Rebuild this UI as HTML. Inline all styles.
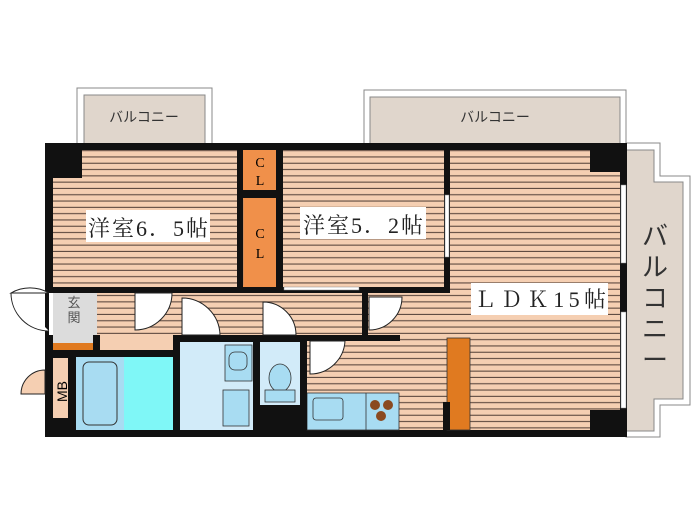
<!DOCTYPE html>
<html><head><meta charset="utf-8"><style>html,body{margin:0;padding:0;background:#fff}svg{display:block}</style></head>
<body>
<svg width="700" height="525" viewBox="0 0 700 525" xmlns="http://www.w3.org/2000/svg" font-family="Liberation Serif, Noto Serif CJK SC, serif">
<defs>
<pattern id="fl" width="10" height="6.3" patternUnits="userSpaceOnUse">
<rect width="10" height="6.3" fill="#f5cfb2"/>
<rect y="5.2" width="10" height="1.1" fill="#5e4a40"/>
</pattern>
</defs>
<rect x="77" y="88" width="135" height="56" fill="#fff" stroke="#888" stroke-width="1"/>
<rect x="84" y="95" width="121" height="49" fill="#e0d6cc" stroke="#888" stroke-width="1"/>
<text x="144" y="122" font-size="14" text-anchor="middle" fill="#333" font-family="Noto Sans CJK JP, sans-serif">バルコニー</text>
<rect x="364" y="90" width="262" height="54" fill="#fff" stroke="#888"/>
<rect x="370" y="97" width="250" height="47" fill="#e0d6cc" stroke="#888"/>
<text x="495" y="122" font-size="14" text-anchor="middle" fill="#333" font-family="Noto Sans CJK JP, sans-serif">バルコニー</text>
<polygon points="626,143 660,143 660,176 690,176 690,405 660,405 660,437 626,437" fill="#fff" stroke="#888"/>
<polygon points="626,150 654,150 654,182 683,182 683,399 654,399 654,431 626,431" fill="#e0d6cc" stroke="#888"/>
<text font-size="26" fill="#333" font-family="Noto Sans CJK JP, sans-serif" text-anchor="middle">
<tspan x="655" y="245">バ</tspan><tspan x="655" y="276">ル</tspan><tspan x="655" y="307">コ</tspan><tspan x="655" y="338">ニ</tspan><tspan x="655" y="369">ー</tspan></text>
<rect x="45" y="143" width="582" height="294" fill="#111"/>
<rect x="53" y="150" width="184" height="137" fill="url(#fl)"/>
<rect x="283" y="150" width="161" height="137" fill="url(#fl)"/>
<rect x="450" y="150" width="170" height="280" fill="url(#fl)"/>
<rect x="97" y="293" width="353" height="42" fill="url(#fl)"/>
<rect x="307" y="335" width="143" height="95" fill="url(#fl)"/>
<rect x="97" y="335" width="76" height="15" fill="#f5cfb2"/>
<rect x="53" y="150" width="29" height="28" fill="#111"/>
<rect x="590" y="150" width="30" height="22" fill="#111"/>
<rect x="590" y="410" width="30" height="20" fill="#111"/>
<rect x="243" y="150" width="33" height="40" fill="#f0904a"/>
<rect x="243" y="198" width="33" height="89" fill="#f0904a"/>
<text x="260" y="167" font-size="14" text-anchor="middle">C</text>
<text x="260" y="185" font-size="14" text-anchor="middle">L</text>
<text x="260" y="238" font-size="14" text-anchor="middle">C</text>
<text x="260" y="258" font-size="14" text-anchor="middle">L</text>
<rect x="277" y="152" width="5" height="38" fill="#fff" stroke="#888" stroke-width=".5"/>
<rect x="238" y="200" width="5" height="85" fill="#fff" stroke="#888" stroke-width=".5"/>
<rect x="53" y="293" width="44" height="50" fill="#dcdcdc"/>
<text x="74" y="307" font-size="13" text-anchor="middle" fill="#555" font-family="Noto Sans CJK JP, sans-serif">玄</text>
<text x="74" y="322" font-size="13" text-anchor="middle" fill="#555" font-family="Noto Sans CJK JP, sans-serif">関</text>
<rect x="53" y="343" width="40" height="8" fill="#e07a20"/>
<rect x="49" y="293" width="4" height="42" fill="#fff"/>
<path d="M49,293 A38,38 0 0 0 11,293 L49,293 M49,331 A38,38 0 0 1 11,293" fill="#fff" stroke="#222" stroke-width="1"/>
<rect x="53" y="358" width="16" height="60" fill="#f5cfb2"/>
<text x="0" y="0" font-size="14" font-family="Liberation Sans, sans-serif" transform="translate(67,402) rotate(-90)">MB</text>
<path d="M45,370 A24,24 0 0 0 21,394 L45,394 Z" fill="#f5cfb2" stroke="#222"/>
<rect x="76" y="357" width="48" height="73" fill="#a8dcf2"/>
<rect x="83" y="362" width="34" height="63" rx="6" fill="#a8dcf2" stroke="#333" stroke-width="1"/>
<rect x="124" y="357" width="49" height="73" fill="#7ff7f7"/>
<rect x="174" y="362" width="4" height="20" fill="#fff" stroke="#888" stroke-width=".5"/>
<rect x="180" y="342" width="73" height="88" fill="#d2ebf9"/>
<rect x="225" y="345" width="27" height="36" fill="#a8dcf2" stroke="#333" stroke-width=".8"/>
<rect x="229" y="352" width="18" height="18" rx="6" fill="#a8dcf2" stroke="#333" stroke-width=".8"/>
<rect x="223" y="390" width="26" height="36" fill="#a8dcf2" stroke="#333" stroke-width=".8"/>
<rect x="260" y="342" width="40" height="63" fill="#d2ebf9"/>
<ellipse cx="280" cy="378" rx="11" ry="14" fill="#a8dcf2" stroke="#333" stroke-width=".8"/>
<rect x="265" y="390" width="30" height="12" fill="#a8dcf2" stroke="#333" stroke-width=".8"/>
<rect x="307" y="393" width="92" height="37" fill="#a8dcf2" stroke="#333" stroke-width=".8"/>
<rect x="313" y="398" width="30" height="22" rx="3" fill="#a8dcf2" stroke="#333" stroke-width=".8"/>
<line x1="366" y1="393" x2="366" y2="430" stroke="#333" stroke-width=".8"/>
<circle cx="375" cy="405" r="5" fill="#8a4a20"/><circle cx="388" cy="405" r="5" fill="#8a4a20"/><circle cx="381" cy="416" r="5" fill="#8a4a20"/>
<rect x="447" y="338" width="23" height="92" fill="#e07a20" stroke="#333" stroke-width=".8"/>
<rect x="443" y="402" width="7" height="28" fill="#111"/>
<rect x="237" y="150" width="6" height="143" fill="#111"/>
<rect x="276" y="150" width="7" height="143" fill="#111"/>
<rect x="243" y="190" width="33" height="8" fill="#111"/>
<rect x="444" y="150" width="6" height="137" fill="#111"/>
<rect x="53" y="287" width="229" height="6" fill="#111"/>
<rect x="364" y="287" width="86" height="6" fill="#111"/>
<rect x="284" y="287" width="75" height="3" fill="#fff" stroke="#888" stroke-width=".5"/>
<rect x="362" y="293" width="6" height="42" fill="#111"/>
<rect x="307" y="335" width="93" height="6" fill="#111"/>
<rect x="93" y="335" width="7" height="15" fill="#111"/>
<rect x="53" y="350" width="120" height="7" fill="#111"/>
<rect x="68" y="357" width="8" height="73" fill="#111"/>
<rect x="173" y="335" width="7" height="95" fill="#111"/>
<rect x="180" y="335" width="127" height="7" fill="#111"/>
<rect x="253" y="335" width="7" height="95" fill="#111"/>
<rect x="300" y="335" width="7" height="95" fill="#111"/>
<rect x="260" y="405" width="40" height="25" fill="#111"/>
<path d="M135,293 L172,293 A37,37 0 0 1 135,330 Z" fill="#fff" stroke="#222"/>
<path d="M182,298 A38,38 0 0 1 220,335 L182,335 Z" fill="#fff" stroke="#222"/>
<path d="M263,302 A33,33 0 0 1 296,335 L263,335 Z" fill="#fff" stroke="#222"/>
<path d="M369,297 L402,297 A33,33 0 0 1 369,330 Z" fill="#fff" stroke="#222"/>
<path d="M310,341 L345,341 A35,35 0 0 1 310,374 Z" fill="#fff" stroke="#222"/>
<rect x="621" y="185" width="5" height="78" fill="#fff" stroke="#888" stroke-width=".5"/>
<rect x="621" y="312" width="5" height="96" fill="#fff" stroke="#888" stroke-width=".5"/>
<rect x="445" y="195" width="4" height="62" fill="#fff" stroke="#888" stroke-width=".5"/>
<rect x="86" y="210" width="124" height="32" fill="#fff"/>
<text x="88" y="236" font-size="22" fill="#222" textLength="120">洋室6．5帖</text>
<rect x="300" y="207" width="126" height="32" fill="#fff"/>
<text x="303" y="233" font-size="22" fill="#222" textLength="120">洋室5．2帖</text>
<rect x="471" y="283" width="137" height="32" fill="#fff"/>
<text x="474" y="307" font-size="22" fill="#222" textLength="132">ＬＤＫ15帖</text>
</svg>
</body></html>
